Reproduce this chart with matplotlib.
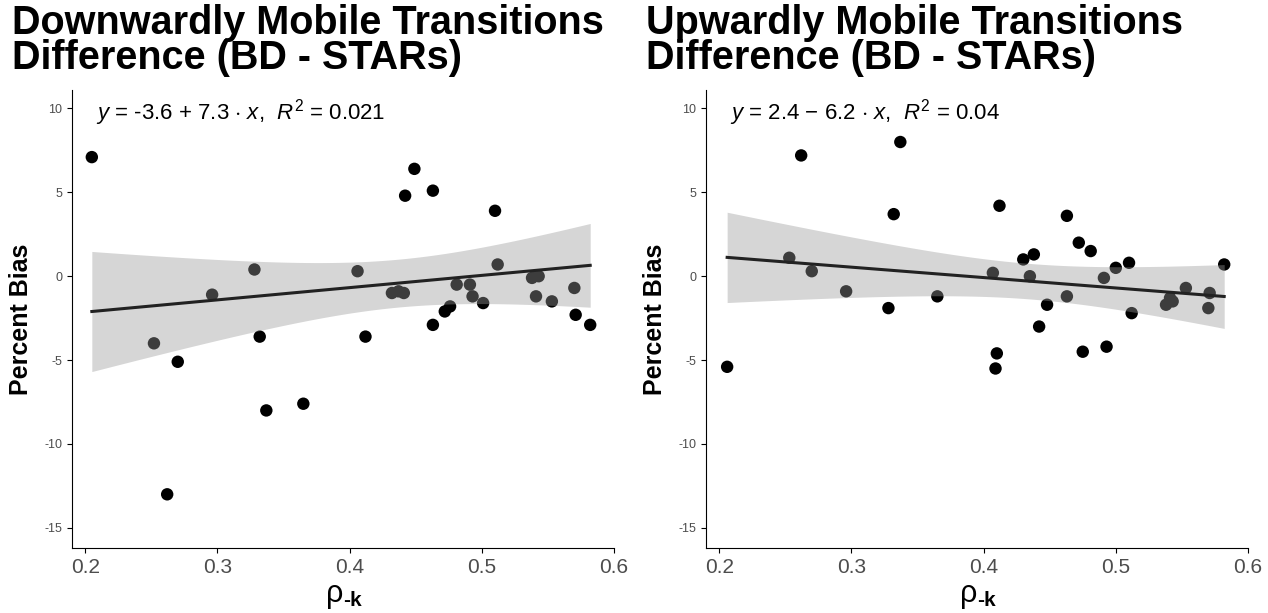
import matplotlib.pyplot as plt
import numpy as np

plt.rcParams["font.family"] = ["Liberation Sans", "DejaVu Sans"]
plt.rcParams["mathtext.fontset"] = "custom"
plt.rcParams["mathtext.rm"] = "Liberation Sans"
plt.rcParams["mathtext.it"] = "Liberation Sans:italic"
plt.rcParams["mathtext.bf"] = "Liberation Sans:bold"

# Downwardly mobile transitions
x_down = [0.205, 0.252, 0.262, 0.270, 0.296, 0.328, 0.332, 0.337, 0.365, 0.406,
          0.412, 0.432, 0.437, 0.441, 0.442, 0.449, 0.463, 0.463, 0.472, 0.476,
          0.481, 0.491, 0.493, 0.501, 0.510, 0.512, 0.538, 0.541, 0.543, 0.553,
          0.570, 0.571, 0.582]
y_down = [7.1, -4.0, -13.0, -5.1, -1.1, 0.4, -3.6, -8.0, -7.6, 0.3,
          -3.6, -1.0, -0.9, -1.0, 4.8, 6.4, 5.1, -2.9, -2.1, -1.8,
          -0.5, -0.5, -1.2, -1.6, 3.9, 0.7, -0.1, -1.2, 0.0, -1.5,
          -0.7, -2.3, -2.9]

# Upwardly mobile transitions
x_up = [0.206, 0.253, 0.262, 0.270, 0.296, 0.328, 0.332, 0.337, 0.365, 0.407,
        0.410, 0.409, 0.412, 0.430, 0.435, 0.438, 0.442, 0.448, 0.463, 0.463,
        0.472, 0.475, 0.481, 0.491, 0.493, 0.500, 0.510, 0.512, 0.538, 0.541,
        0.543, 0.553, 0.570, 0.571, 0.582]
y_up = [-5.4, 1.1, 7.2, 0.3, -0.9, -1.9, 3.7, 8.0, -1.2, 0.2,
        -4.6, -5.5, 4.2, 1.0, 0.0, 1.3, -3.0, -1.7, 3.6, -1.2,
        2.0, -4.5, 1.5, -0.1, -4.2, 0.5, 0.8, -2.2, -1.7, -1.3,
        -1.5, -0.7, -1.9, -1.0, 0.7]

# reported fit coefficients (intercept, slope)
coefs = [(-3.6, 7.3), (2.4, -6.2)]

titles = ["Downwardly Mobile Transitions\nDifference (BD - STARs)",
          "Upwardly Mobile Transitions\nDifference (BD - STARs)"]
equations = [r"$\it{y}$ = -3.6 + 7.3 $\cdot$ $\it{x}$,  $\it{R}^2$ = 0.021",
             r"$\it{y}$ = 2.4 $-$ 6.2 $\cdot$ $\it{x}$,  $\it{R}^2$ = 0.04"]


def lm_band(x, y, a, b):
    x = np.asarray(x)
    y = np.asarray(y)
    n = len(x)
    xs = np.linspace(x.min(), x.max(), 80)
    fit = a + b * xs
    resid = y - (a + b * x)
    s = np.sqrt(np.sum(resid ** 2) / (n - 2))
    se = s * np.sqrt(1 / n + (xs - x.mean()) ** 2 / np.sum((x - x.mean()) ** 2))
    return xs, fit, fit - 2.035 * se, fit + 2.035 * se


fig = plt.figure(figsize=(12.68, 6.13), dpi=100)
panels = [(x_down, y_down, 72), (x_up, y_up, 706)]
for i, (x, y, left) in enumerate(panels):
    ax = fig.add_axes([left / 1268, 65 / 613, 542 / 1268, 458 / 613])
    ax.scatter(x, y, s=80, color="black", zorder=2, edgecolors="none")
    xs, fit, lo, hi = lm_band(x, y, *coefs[i])
    ax.fill_between(xs, lo, hi, color="#999999", alpha=0.4, lw=0, zorder=3)
    ax.plot(xs, fit, color="#222222", lw=2.2, zorder=4)
    ax.set_xlim(0.19, 0.6)
    ax.set_ylim(-16.2, 11.1)
    ax.set_xticks([0.2, 0.3, 0.4, 0.5, 0.6])
    ax.set_xticklabels(["0.2", "0.3", "0.4", "0.5", "0.6"], fontsize=15, color="#4d4d4d")
    ax.set_yticks([10, 5, 0, -5, -10, -15])
    ax.set_yticklabels(["10", "5", "0", "-5", "-10", "-15"], fontsize=9, color="#4d4d4d")
    for sp in ["top", "right"]:
        ax.spines[sp].set_visible(False)
    ax.set_ylabel("Percent Bias", fontsize=18, fontweight="bold", labelpad=8)
    ax.text(0.5, -0.1, "ρ", transform=ax.transAxes, fontsize=22,
            ha="right", va="center")
    ax.text(0.5, -0.115, "-k", transform=ax.transAxes, fontsize=15,
            fontweight="bold", ha="left", va="center")
    ax.set_title(titles[i], fontsize=28.5, fontweight="bold", loc="left",
                 x=-0.11, ha="left", pad=15, linespacing=0.92)
    ax.text(0.045, 0.985, equations[i], transform=ax.transAxes, fontsize=16,
            va="top", ha="left")

fig.savefig("out.png", dpi=100)
